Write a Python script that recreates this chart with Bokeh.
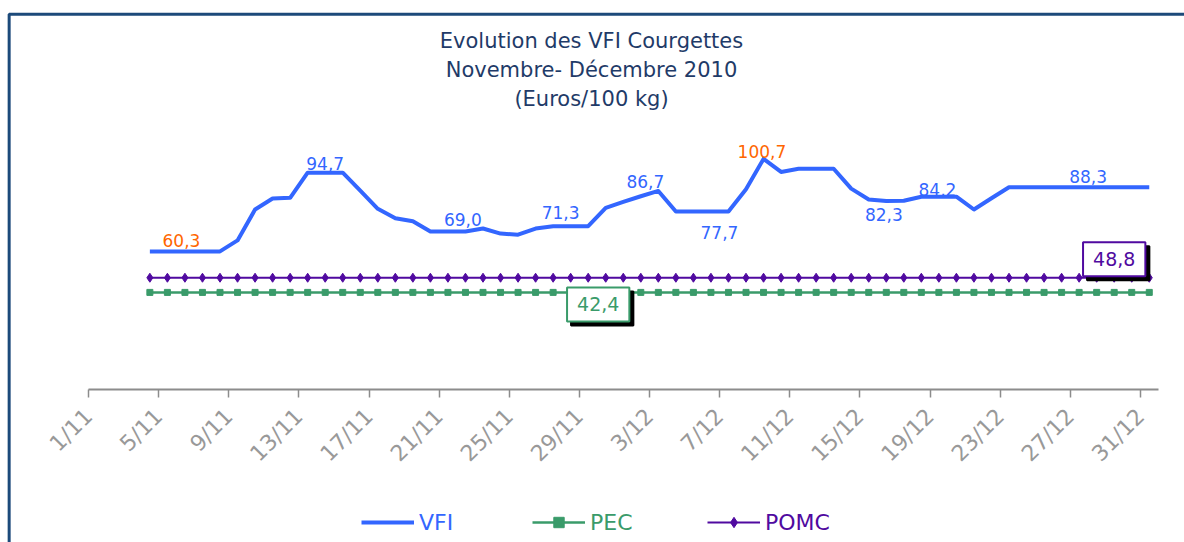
import math
import datetime
from bokeh.plotting import figure
from bokeh.models import Range1d, FixedTicker, Label, Legend, LegendItem, BoxAnnotation
from bokeh.embed import file_html
from bokeh.resources import INLINE

# ---------------- DATA ----------------
dates = ["4/11", "5/11", "6/11", "7/11", "8/11", "9/11", "10/11", "11/11", "12/11",
         "13/11", "14/11", "15/11", "16/11", "17/11", "18/11", "19/11", "20/11",
         "21/11", "22/11", "23/11", "24/11", "25/11", "26/11", "27/11", "28/11",
         "29/11", "30/11",
         "1/12", "2/12", "3/12", "4/12", "5/12", "6/12", "7/12", "8/12", "9/12",
         "10/12", "11/12", "12/12", "13/12", "14/12", "15/12", "16/12", "17/12",
         "18/12", "19/12", "20/12", "21/12", "22/12", "23/12", "24/12", "25/12",
         "26/12", "27/12", "28/12", "29/12", "30/12", "31/12"]

vfi = [60.3, 60.3, 60.3, 60.3, 60.3, 65.1, 78.6, 83.4, 83.7,
       94.7, 94.7, 94.7, 86.8, 78.9, 74.8, 73.5, 69.0,
       69.0, 69.0, 70.3, 68.1, 67.6, 70.3, 71.3, 71.3,
       71.3, 79.3,
       81.9, 84.4, 86.7, 77.7, 77.7, 77.7, 77.7, 87.4, 100.7,
       95.0, 96.4, 96.4, 96.4, 87.7, 83.0, 82.3, 82.4,
       84.2, 84.2, 84.2, 78.6, 83.5, 88.3, 88.3, 88.3,
       88.3, 88.3, 88.3, 88.3, 88.3, 88.3]

pec = [42.4, 42.4, 42.4, 42.4, 42.4, 42.4, 42.4, 42.4, 42.4,
       42.4, 42.4, 42.4, 42.4, 42.4, 42.4, 42.4, 42.4,
       42.4, 42.4, 42.4, 42.4, 42.4, 42.4, 42.4, 42.4,
       42.4, 42.4,
       42.4, 42.4, 42.4, 42.4, 42.4, 42.4, 42.4, 42.4, 42.4,
       42.4, 42.4, 42.4, 42.4, 42.4, 42.4, 42.4, 42.4,
       42.4, 42.4, 42.4, 42.4, 42.4, 42.4, 42.4, 42.4,
       42.4, 42.4, 42.4, 42.4, 42.4, 42.4]

pomc = [48.8, 48.8, 48.8, 48.8, 48.8, 48.8, 48.8, 48.8, 48.8,
        48.8, 48.8, 48.8, 48.8, 48.8, 48.8, 48.8, 48.8,
        48.8, 48.8, 48.8, 48.8, 48.8, 48.8, 48.8, 48.8,
        48.8, 48.8,
        48.8, 48.8, 48.8, 48.8, 48.8, 48.8, 48.8, 48.8, 48.8,
        48.8, 48.8, 48.8, 48.8, 48.8, 48.8, 48.8, 48.8,
        48.8, 48.8, 48.8, 48.8, 48.8, 48.8, 48.8, 48.8,
        48.8, 48.8, 48.8, 48.8, 48.8, 48.8]

tick_labels = ["1/11", "5/11", "9/11", "13/11", "17/11", "21/11", "25/11", "29/11",
               "3/12", "7/12", "11/12", "15/12", "19/12", "23/12", "27/12", "31/12"]

title_lines = ["Evolution des VFI Courgettes", "Novembre- Décembre 2010", "(Euros/100 kg)"]

series_names = ["VFI", "PEC", "POMC"]

# dates whose VFI value is written on the chart
label_dates = ["6/11", "14/11", "22/11", "28/11", "3/12", "7/12", "9/12", "16/12", "19/12", "28/12"]
# boxed labels for the reference series
pec_box_date = "29/11"
pomc_box_date = "29/12"

# ---------------- STYLE / LAYOUT ----------------
BLUE = "#3366FF"
GREEN = "#3A9B6A"
PURPLE = "#500AA0"
ORANGE = "#FF6600"
TITLE_C = "#1F3B68"
GREY = "#8C8C8C"
FRAME_C = "#1C4A7A"
FONT = "DejaVu Sans"

# label offsets in pixels (dx right, dy up)
label_dx = [-3.5, 0.0, -2.6, -10.0, -13.0, -9.0, -1.6, -2.4, -1.4, -8.6]
label_dy = [11.0, 9.5, 11.5, 13.7, 9.4, -21.0, 7.6, -13.0, 7.3, 10.4]

N_DAYS = 61
W, H = 1184, 542
X0_PX, Y0_PX = 88, 389          # canvas position of day 0 / value 0
PX_X = 1052 / 60                # pixels per day
PX_Y = 2.29                     # pixels per euro


def day_index(s):
    d, m = (int(v) for v in s.split("/"))
    return (datetime.date(2010, m, d) - datetime.date(2010, 11, 1)).days


def page_to_data(px, py):
    return (px - X0_PX) / PX_X, (Y0_PX - py) / PX_Y


xs = [day_index(d) + 0.5 for d in dates]

x0, y1 = page_to_data(0, 0)
x1, y0 = page_to_data(W, H)
p = figure(width=W, height=H, x_range=Range1d(x0, x1), y_range=Range1d(y0, y1),
           y_axis_location=None, toolbar_location=None, output_backend="svg",
           min_border=0, min_border_left=0, min_border_right=0,
           min_border_top=0, min_border_bottom=0)
p.xgrid.visible = False
p.ygrid.visible = False
p.outline_line_color = None
p.background_fill_color = "white"
p.border_fill_color = "white"

ax = p.xaxis[0]
ax.fixed_location = 0
ax.bounds = (0, N_DAYS)
tick_pos = [day_index(t) for t in tick_labels]
ax.ticker = FixedTicker(ticks=tick_pos, minor_ticks=[])
ax.major_label_overrides = {t: lab for t, lab in zip(tick_pos, tick_labels)}
ax.axis_line_color = GREY
ax.axis_line_width = 2
ax.major_tick_line_color = GREY
ax.major_tick_line_width = 1.5
ax.major_tick_out = 8
ax.major_tick_in = 0
ax.minor_tick_out = 0
ax.minor_tick_in = 0
ax.major_label_orientation = math.pi / 4
ax.major_label_text_color = "#999999"
ax.major_label_text_font = FONT
ax.major_label_text_font_size = "22px"
ax.major_label_standoff = 15

# outer frame of the original chart
bx0, by0 = page_to_data(8.65, 13.65)
bx1, by1 = page_to_data(3000, 3000)
p.add_layout(BoxAnnotation(left=bx0, right=bx1, top=by0, bottom=by1,
                           fill_alpha=0, fill_color=None,
                           line_color=FRAME_C, line_alpha=1.0, line_width=3))

# series
r_pec_l = p.line(xs, pec, line_color=GREEN, line_width=2.5)
r_pec_m = p.scatter(xs, pec, marker="square", size=6, fill_color=GREEN, line_color=GREEN)
r_pomc_l = p.line(xs, pomc, line_color=PURPLE, line_width=2)
r_pomc_m = p.scatter(xs, pomc, marker="diamond", size=9, fill_color=PURPLE, line_color=PURPLE)
r_vfi = p.line(xs, vfi, line_color=BLUE, line_width=4, line_join="round")

# title
for line, py in zip(title_lines, [40, 69, 98.5]):
    tx, ty = page_to_data(591, py)
    p.add_layout(Label(x=tx, y=ty, text=line, text_align="center", text_baseline="middle",
                       text_color=TITLE_C, text_font=FONT, text_font_size="21px"))

# VFI value labels
vmin, vmax = min(vfi), max(vfi)
for d, ddx, ddy in zip(label_dates, label_dx, label_dy):
    v = vfi[dates.index(d)]
    col = ORANGE if v in (vmin, vmax) else BLUE
    lx = day_index(d) + 0.5 + ddx / PX_X
    ly = v + ddy / PX_Y
    p.add_layout(Label(x=lx, y=ly, text=f"{v:.1f}".replace(".", ","),
                       text_align="center", text_baseline="middle",
                       text_color=col, text_font=FONT, text_font_size="17px"))


def boxed(d, series, dxp, dyp, color):
    v = series[dates.index(d)]
    txt = f"{v:.1f}".replace(".", ",")
    bxp = day_index(d) + 0.5 + dxp / PX_X
    byp = v + dyp / PX_Y
    sh = Label(x=bxp + 4 / PX_X, y=byp - 4 / PX_Y, text=txt, text_align="center",
               text_baseline="middle", text_color="black", text_font=FONT,
               text_font_size="19px", background_fill_color="black",
               border_line_color="black", border_line_width=2, padding=10)
    fg = Label(x=bxp, y=byp, text=txt, text_align="center",
               text_baseline="middle", text_color=color, text_font=FONT,
               text_font_size="19px", background_fill_color="white",
               border_line_color=color, border_line_width=2, padding=10)
    p.add_layout(sh)
    p.add_layout(fg)


boxed(pec_box_date, pec, 10, -12, GREEN)
boxed(pomc_box_date, pomc, 0, 18.4, PURPLE)


# legends (one per series so each text takes its series colour)
def add_legend(name, renderers, color, page_x):
    leg = Legend(items=[LegendItem(label=name, renderers=renderers)],
                 location=(page_x, H - 535), orientation="horizontal",
                 glyph_width=53, glyph_height=26, label_height=26, label_standoff=5,
                 padding=0, margin=0, spacing=0, border_line_color=None,
                 background_fill_alpha=0, label_text_color=color,
                 label_text_font=FONT, label_text_font_size="22px")
    p.add_layout(leg, "center")


add_legend(series_names[0], [r_vfi], BLUE, 361)
add_legend(series_names[1], [r_pec_l, r_pec_m], GREEN, 532)
add_legend(series_names[2], [r_pomc_l, r_pomc_m], PURPLE, 707)

open("out.html", "w").write(file_html(p, INLINE))
